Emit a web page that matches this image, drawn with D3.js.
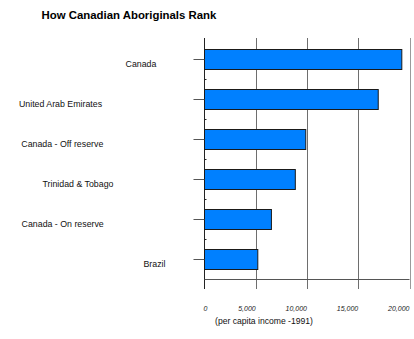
<!DOCTYPE html>
<html>
<head>
<meta charset="utf-8">
<script src="https://cdn.jsdelivr.net/npm/d3@7"></script>
<style>
  body { margin: 0; background: #fff; }
  svg { display: block; font-family: Arial, "Liberation Sans", sans-serif; }
</style>
</head>
<body>
<div id="chart"></div>
<script>
const width = 414;
const height = 339;

// data
const countries = ["Canada", "United Arab Emirates", "Canada - Off reserve", "Trinidad & Tobago", "Canada - On reserve", "Brazil"];
const income = [19250, 16950, 9880, 8860, 6530, 5200];
const tickValues = [0, 5000, 10000, 15000, 20000];
const tickLabels = ["0", "5,000", "10,000", "15,000", "20,000"];

const title = "How Canadian Aboriginals Rank";
const axisTitle = "(per capita income -1991)";

// label centres, the original labels sit at odd places
const labelCenters = [141, 60.5, 62.3, 78, 62.7, 154.5];

const plotLeft = 204.5;
const plotRight = 409.5;
const plotTop = 39;
const plotBottom = 279;

const svg = d3.select("#chart")
    .append("svg")
    .attr("width", width)
    .attr("height", height);

const x = d3.scaleLinear()
    .domain([0, 20000])
    .range([plotLeft, plotRight]);

const y = d3.scaleBand()
    .domain(countries)
    .range([plotTop, plotBottom])
    .paddingInner(0.5)
    .paddingOuter(0.25);

// title
svg.append("text")
    .attr("x", 41.5)
    .attr("y", 18.5)
    .style("font-size", "11.4px")
    .style("font-weight", "bold")
    .attr("fill", "#000")
    .text(title);

// gridlines (run past the bottom axis like tick marks)
svg.append("g")
    .selectAll("line")
    .data(tickValues.slice(1))
    .join("line")
    .attr("x1", d => Math.round(x(d)) + 0.5)
    .attr("x2", d => Math.round(x(d)) + 0.5)
    .attr("y1", plotTop - 1)
    .attr("y2", plotBottom + 10)
    .attr("stroke", (d, i) => i === 3 ? "#9a9a9a" : "#6e6e6e")
    .attr("stroke-width", 1);

// zero tick below axis
svg.append("line")
    .attr("x1", plotLeft).attr("x2", plotLeft)
    .attr("y1", plotTop - 1).attr("y2", plotBottom + 10)
    .attr("stroke", "#222");

// bottom axis line
svg.append("line")
    .attr("x1", plotLeft).attr("x2", plotRight)
    .attr("y1", plotBottom + 0.5).attr("y2", plotBottom + 0.5)
    .attr("stroke", "#555");

// bars
svg.append("g")
    .selectAll("rect")
    .data(countries)
    .join("rect")
    .attr("x", x(0))
    .attr("y", d => Math.round(y(d)) + 0.5)
    .attr("width", (d, i) => x(income[i]) - x(0))
    .attr("height", y.bandwidth())
    .attr("fill", "#0080ff")
    .attr("stroke", "#1a1a1a")
    .attr("stroke-width", 1);

// category ticks on the left
svg.append("g")
    .selectAll("line")
    .data(countries)
    .join("line")
    .attr("x1", plotLeft - 11)
    .attr("x2", plotLeft)
    .attr("y1", d => Math.round(y(d) + y.bandwidth() / 2) + 0.5)
    .attr("y2", d => Math.round(y(d) + y.bandwidth() / 2) + 0.5)
    .attr("stroke", "#555");

// small marks between categories
svg.append("g")
    .selectAll("line")
    .data(countries.slice(1))
    .join("line")
    .attr("x1", plotLeft)
    .attr("x2", plotLeft + 2)
    .attr("y1", d => Math.round(y(d) - y.step() * 0.25) + 0.5)
    .attr("y2", d => Math.round(y(d) - y.step() * 0.25) + 0.5)
    .attr("stroke", "#222");

// category labels
svg.append("g")
    .selectAll("text")
    .data(countries)
    .join("text")
    .attr("x", (d, i) => labelCenters[i])
    .attr("y", d => y(d) + y.bandwidth() / 2 + 7.5)
    .attr("text-anchor", "middle")
    .style("font-size", "8.8px")
    .attr("fill", "#111")
    .text(d => d);

// value tick labels
svg.append("g")
    .selectAll("text")
    .data(tickValues)
    .join("text")
    .attr("x", (d, i) => i === 0 ? x(d) + 3 : x(d))
    .attr("y", 311)
    .attr("text-anchor", "end")
    .style("font-size", "7px")
    .style("font-style", "italic")
    .attr("fill", "#222")
    .text((d, i) => tickLabels[i]);

// axis title
svg.append("text")
    .attr("x", 264)
    .attr("y", 324)
    .attr("text-anchor", "middle")
    .style("font-size", "8.6px")
    .attr("fill", "#111")
    .text(axisTitle);
</script>
</body>
</html>
